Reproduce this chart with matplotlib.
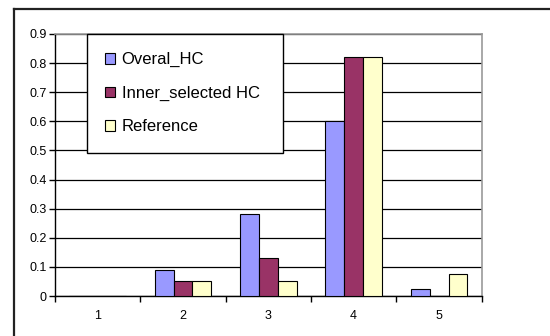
import matplotlib
matplotlib.use("Agg")
import matplotlib.pyplot as plt
from matplotlib.lines import Line2D
import numpy as np

plt.rcParams['font.family'] = ['Liberation Sans', 'DejaVu Sans']

categories = ["1", "2", "3", "4", "5"]
overal_hc = [0.0, 0.09, 0.28, 0.60, 0.025]
inner_selected_hc = [0.0, 0.05, 0.13, 0.82, 0.0]
reference = [0.0, 0.05, 0.05, 0.82, 0.077]
series_names = ["Overal_HC", "Inner_selected HC", "Reference"]
series_colors = ["#9999FF", "#993366", "#FFFFCC"]
y_ticks = [0.0, 0.1, 0.2, 0.3, 0.4, 0.5, 0.6, 0.7, 0.8, 0.9]
y_tick_labels = ["0", "0.1", "0.2", "0.3", "0.4", "0.5", "0.6", "0.7", "0.8", "0.9"]

fig = plt.figure(figsize=(5.5, 3.36), dpi=100)
ax = fig.add_axes([0.1, 0.119, 0.7758, 0.780])

# chart-area frame (open to the right and bottom)
fig.add_artist(Line2D([0.0255, 1.0], [0.973, 0.973], transform=fig.transFigure,
                      color="#222222", lw=1.6))
fig.add_artist(Line2D([0.0255, 0.0255], [0.0, 0.973], transform=fig.transFigure,
                      color="#222222", lw=1.6))

x = np.arange(1, len(categories) + 1)
width = 1.0 / 4.5
all_series = [overal_hc, inner_selected_hc, reference]
for i, (vals, name, col) in enumerate(zip(all_series, series_names, series_colors)):
    ax.bar(x + (i - 1) * width, vals, width=width, color=col, edgecolor="black",
           linewidth=0.8, label=name, zorder=3)

ax.set_xlim(0.5, 5.5)
ax.set_ylim(0, 0.9)
ax.set_yticks(y_ticks)
ax.set_yticklabels(y_tick_labels)
ax.set_xticks(x)
ax.set_xticklabels(categories)
ax.set_xticks(np.arange(0.5, 5.6, 1.0), minor=True)
ax.tick_params(axis='x', which='major', length=0, pad=10, labelsize=9)
ax.tick_params(axis='x', which='minor', length=4, width=1, direction='out')
ax.tick_params(axis='y', length=4, width=1, direction='out', labelsize=9, pad=2)

ax.yaxis.grid(True, color="black", linewidth=0.9, zorder=0)
ax.set_axisbelow(True)
for side in ("top", "right"):
    ax.spines[side].set_color("#999999")
    ax.spines[side].set_linewidth(1.2)
for side in ("left", "bottom"):
    ax.spines[side].set_color("black")
    ax.spines[side].set_linewidth(1.0)

leg = ax.legend(loc="upper left", bbox_to_anchor=(0.074, 1.0, 0.461, 0.0),
                mode="expand", fontsize=12, frameon=True, fancybox=False,
                edgecolor="black", framealpha=1.0, borderpad=1.1,
                labelspacing=1.1, handlelength=0.6, handleheight=0.6,
                handletextpad=0.4, borderaxespad=0.0)
leg.get_frame().set_linewidth(1.0)
leg.set_zorder(5)

fig.savefig("out.png", dpi=100)
